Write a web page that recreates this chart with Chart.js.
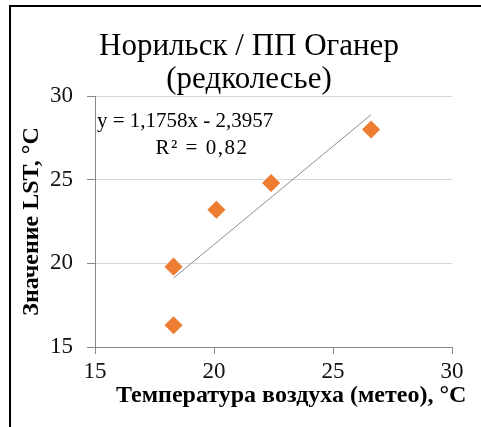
<!DOCTYPE html>
<html>
<head>
<meta charset="utf-8">
<script src="https://cdn.jsdelivr.net/npm/chart.js@4.4.1/dist/chart.umd.min.js"></script>
<style>
  html, body { margin: 0; padding: 0; background: #fff; }
  #wrap { position: relative; width: 481px; height: 427px; overflow: hidden; }
  #frame { position: absolute; left: 9px; top: 5px; width: 520px; height: 480px;
           border-left: 2px solid #000; border-top: 2px solid #000; pointer-events: none; }
</style>
</head>
<body>
<div id="wrap">
  <canvas id="chart" width="481" height="427"></canvas>
  <div id="frame"></div>
</div>
<script>
// data
const airTemp = [18.3, 18.3, 20.1, 22.4, 26.6];
const lstValue = [19.8, 16.3, 23.2, 24.8, 28.0];
const trendCoef = [1.1758, -2.3957]; // slope, intercept (from the equation label)
const xTicks = [15, 20, 25, 30];
const yTicks = [15, 20, 25, 30];
const titleLines = ['Норильск / ПП Оганер', '(редколесье)'];
const yTitle = 'Значение LST, °C';
const xTitle = 'Температура воздуха (метео), °C';
const equationText = 'y = 1,1758x - 2,3957';
const r2Text = 'R² = 0,82';

const serif = '"Liberation Serif"';
Chart.defaults.font.family = serif;

const points = airTemp.map((x, i) => ({ x: x, y: lstValue[i] }));
const xMin = Math.min(...airTemp), xMax = Math.max(...airTemp);
const trend = [xMin, xMax].map(x => ({ x: x, y: trendCoef[0] * x + trendCoef[1] }));

// big regular serif text falls back to sans here, so draw small and scale up
function bigText(ctx, text, x, y, size) {
    const base = 20;
    ctx.save();
    ctx.translate(x, y);
    ctx.scale(size / base, size / base);
    ctx.font = base + 'px ' + serif;
    ctx.fillText(text, 0, 0);
    ctx.restore();
}

// title, equation and x axis title
const extraText = {
    id: 'extraText',
    afterDraw(chart) {
        const ctx = chart.ctx;
        ctx.save();
        ctx.fillStyle = '#000';
        ctx.textBaseline = 'alphabetic';

        ctx.textAlign = 'center';
        bigText(ctx, titleLines[0], 249, 55, 31);
        bigText(ctx, titleLines[1], 249, 88, 31);

        ctx.font = '21px ' + serif;
        ctx.textAlign = 'left';
        ctx.fillText(equationText, 97, 127);
        ctx.textAlign = 'center';
        ctx.letterSpacing = '1.5px';
        ctx.fillText(r2Text, 202, 154);
        ctx.letterSpacing = '0px';

        ctx.font = 'bold 24px ' + serif;
        ctx.textAlign = 'left';
        ctx.fillText(xTitle, 116, 402);
        ctx.restore();
    }
};

const ctx = document.getElementById('chart').getContext('2d');
new Chart(ctx, {
    type: 'scatter',
    data: {
        datasets: [
            {
                label: 'trend',
                data: trend,
                showLine: true,
                borderColor: '#8c8c8c',
                borderWidth: 1,
                pointRadius: 0,
                order: 0
            },
            {
                label: 'LST',
                data: points,
                backgroundColor: '#ED7D31',
                borderColor: '#ED7D31',
                borderWidth: 1.5,
                pointStyle: 'rectRot',
                pointRadius: 8,
                order: 1
            }
        ]
    },
    options: {
        responsive: false,
        animation: false,
        layout: { padding: { top: 96, right: 29, left: 0, bottom: 0 } },
        plugins: {
            legend: { display: false },
            tooltip: { enabled: false },
            title: { display: false }
        },
        scales: {
            x: {
                type: 'linear',
                min: 15,
                max: 30,
                afterBuildTicks: scale => { scale.ticks = xTicks.map(v => ({ value: v })); },
                afterFit: scale => { scale.height = 80; },
                grid: { drawOnChartArea: false, tickColor: '#888', tickLength: 7 },
                border: { color: '#888' },
                ticks: { color: '#111', padding: 4, font: { family: serif, size: 23 } }
            },
            y: {
                min: 15,
                max: 30,
                afterBuildTicks: scale => { scale.ticks = yTicks.map(v => ({ value: v })); },
                afterFit: scale => { scale.width = 95; },
                grid: {
                    color: c => (c.tick && c.tick.value === 15) ? 'rgba(0,0,0,0)' : '#d9d9d9',
                    tickColor: '#888',
                    tickLength: 8
                },
                border: { color: '#888' },
                ticks: { color: '#111', padding: 14, font: { family: serif, size: 23 } },
                title: {
                    display: true,
                    text: yTitle,
                    color: '#000',
                    font: { family: serif, size: 24, weight: 'bold' },
                    padding: { top: 17.6, bottom: 0 }
                }
            }
        }
    },
    plugins: [extraText]
});
</script>
</body>
</html>
